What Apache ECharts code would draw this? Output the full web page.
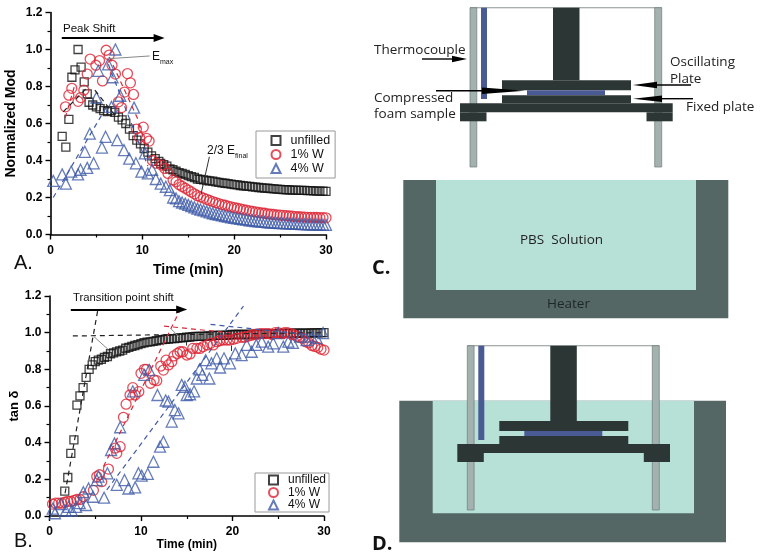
<!DOCTYPE html>
<html><head><meta charset="utf-8">
<style>html,body{margin:0;padding:0;background:#fff}#c{width:762px;height:558px}</style>
<script src="https://cdn.jsdelivr.net/npm/echarts@6/dist/echarts.min.js"></script>
</head><body><div id="c"></div><script>
const seriesNames = ['unfilled','1% W','4% W'];
const minutes = [.33,.67,1,1.33,1.67,2,2.33,2.67,3,3.33,3.67,4,4.33,4.67,5,5.33,5.67,6,6.33,6.67,7,7.33,7.67,8,8.33,8.67,9,9.33,9.67,10,10.33,10.67,11,11.33,11.67,12,12.33,12.67,13,13.33,13.67,14,14.33,14.67,15,15.33,15.67,16,16.33,16.67,17,17.33,17.67,18,18.33,18.67,19,19.33,19.67,20,20.33,20.67,21,21.33,21.67,22,22.33,22.67,23,23.33,23.67,24,24.33,24.67,25,25.33,25.67,26,26.33,26.67,27,27.33,27.67,28,28.33,28.67,29,29.33,29.67,30];

// Panel A: normalized modulus
const modUnfilledT = [1.27,1.67,2,2.33,2.67,3,3.33,3.67,4,4.2,4.6,5,5.4,5.8,6.2,6.6,7,7.4,7.8,8.2,8.6,9,9.4,9.8,10.2,10.6,11,11.4,11.8];
const modUnfilledV = [.53,.472,.622,.85,.89,1,.905,.825,.76,.715,.70,.69,.68,.67,.665,.67,.66,.635,.62,.60,.57,.535,.51,.49,.465,.445,.425,.41,.395];
const modUnfilledTail = [.385,.378,.37,.355,.35,.342,.335,.33,.325,.318,.313,.308,.30,.298,.295,.292,.29,.288,.285,.282,.279,.277,.275,.272,.27,.268,.265,.263,.262,.26,.257,.256,.254,.252,.251,.25,.248,.247,.245,.244,.243,.242,.241,.24,.24,.239,.238,.238,.237,.237,.236,.235,.234,.234,.233];
const modRedT = [1.63,2,2.32,3,3.3,3.63,4,4.32,4.94,5.34,5.66,6.06,6.39,6.7,7.07,7.4,7.73,8.06,8.38,8.7,9.04,9.36,9.7,10.1,10.45,10.74,11.1,11.5,12.1,12.45,12.8,13.35];
const modRedV = [.69,.753,.79,.72,.74,.78,.867,.948,.915,.94,.83,.996,.97,.915,.867,.717,.686,.77,.87,.82,.757,.57,.525,.58,.52,.505,.40,.385,.375,.357,.33,.295];
const modRedTail = [.285,.27,.26,.25,.24,.23,.22,.21,.203,.197,.19,.184,.178,.172,.167,.162,.158,.153,.149,.145,.142,.138,.135,.132,.128,.125,.122,.119,.117,.115,.112,.11,.108,.106,.105,.103,.102,.10,.099,.097,.096,.095,.094,.093,.093,.092,.092,.091,.091,.09];
const modBlueT = [.3,1.27,1.67,2.25,3,3.27,3.74,4,4.28,4.7,5,5.2,5.6,6,6.28,6.64,6.75,7.07,7.26,7.6,8,8.57,9.1,9.3,9.9,10.27,10.6,11.07,11.47,12,12.56,13,13.35];
const modBlueV = [.29,.325,.275,.34,.325,.35,.447,.36,.545,.385,.74,.885,.47,.528,.92,.69,.85,1,.51,.75,.456,.41,.686,.385,.34,.438,.33,.35,.30,.275,.258,.24,.20];
const modBlueTail = [.195,.18,.173,.167,.16,.153,.147,.14,.135,.13,.125,.12,.115,.11,.107,.103,.10,.097,.093,.09,.087,.085,.082,.08,.077,.075,.073,.071,.07,.068,.066,.065,.064,.063,.062,.061,.06,.06,.059,.058,.057,.056,.056,.055,.055,.054,.054,.053,.053,.052];

// Panel B: tan delta
const tanUnfilled = [.136,.21,.342,.415,.605,.655,.70,.756,.80,.824,.842,.85,.855,.865,.87,.885,.89,.895,.90,.905,.915,.92,.925,.93,.935,.94,.945,.948,.95,.953,.956,.96,.962,.964,.965,.967,.968,.97,.972,.973,.975,.976,.978,.98,.98,.98,.98,.982,.983,.985,.985,.985,.985,.987,.988,.99,.99,.99,.99,.99,.99,.99,.991,.992,.992,.993,.993,.994,.994,.995,.995,.995,.996,.996,.996,.997,.997,.997,.998,.998,.998,.999,.999,.999,1,1];
const tanRedT = [.33,.67,1,1.33,1.67,2,2.33,2.67,3,3.33,3.7,4.8,5.17,5.46,5.7,6.44,7.17,7.35,7.72,8.08,8.37,8.8,9.1,9.36,9.76,10,10.37,10.6,11.03,11.43,11.72,12.16,12.45,12.74,13,13.36,13.6,13.98,14.27,14.56,15,15.36,15.65,16.1,16.45,16.8,17.25,17.6,17.9,18.27,18.6,19,19.37,19.7,20.1,20.45,21,21.33,21.67,22,22.33,22.67,23,23.33,23.67,24,24.33,24.67,25,25.33,25.67,26,26.33,26.67,27,27.33,27.67,28,28.33,28.67,29,29.33,29.67,30];
const tanRedV = [.065,.07,.07,.07,.075,.08,.08,.085,.09,.09,.105,.14,.215,.225,.187,.256,.37,.342,.378,.538,.61,.66,.70,.66,.678,.778,.80,.80,.724,.742,.738,.818,.796,.85,.824,.842,.873,.887,.896,.896,.878,.884,.914,.914,.914,.924,.933,.942,.933,.951,.956,.96,.96,.96,.964,.969,.975,.975,.98,.985,.99,.99,.995,.995,.995,.995,.99,1,1,.995,1,1,.995,.99,.98,.975,.97,.95,.945,.93,.925,.92,.91,.905];
const tanBlueT = [.36,.6,1.24,1.78,2.07,2.44,2.9,3.3,3.7,4,4.27,4.75,5.17,5.35,5.97,6.33,6.73,7.1,7.35,7.72,8.2,8.63,9.1,9.36,9.72,10.08,10.34,10.74,10.9,11.36,11.8,12.08,12.45,12.7,13,13.36,13.7,14.1,14.45,14.8,15,15.36,15.8,16.1,16.4,16.7,17.07,17.47,17.7,18.27,18.64,19.07,19.73,20.3,21,21.55,22.1,22.6,23.2,23.9,24.45,25,25.55,26.1,26.6,27.4,28.1,28.65,29.2,29.9];
const tanBlueV = [.04,.015,.065,.03,.05,.03,.05,.07,.13,.06,.15,.105,.196,.215,.10,.233,.36,.396,.17,.484,.196,.15,.68,.156,.233,.22,.77,.23,.796,.296,.66,.378,.405,.63,.624,.515,.578,.56,.715,.705,.66,.664,.68,.75,.80,.77,.85,.75,.833,.86,.81,.86,.833,.887,.878,.933,.896,.933,.951,.924,.942,.998,.924,.951,.944,.978,.96,.978,.97,.998];

// Annotation lines: [x1, y1, x2, y2] in axis units
const modGuides = [
 ['#222',[1.38,.663,3.92,.79]],['#222',[4.83,.78,7,.645]],
 ['#d8283a',[1.6,.63,2.6,.80]],['#d8283a',[6.4,.96,9.55,.62]],['#d8283a',[9.6,.6,10.6,.45]],
 ['#3f5ba8',[.3,.2,6.1,.69]],['#3f5ba8',[6.3,.92,10.6,.37]]];
const tanGuides = [
 ['#222',[1.7,.124,5.28,1.124]],['#222',[2.55,.982,30,1.0]],
 ['#d8283a',[5.9,.27,14.27,1.124]],['#d8283a',[12.52,1.036,27.4,.96]],
 ['#3f5ba8',[6.26,.142,21.2,1.145]],['#3f5ba8',[17.6,1.045,30,.98]]];
const modLeaders = [['#888',[6.2,.95,10.8,.965]],['#333',[17.3,.42,16.4,.22]]];
const tanLeaders = [['#888',[4.87,.978,6.4,.909]],['#888',[13.3,1.02,14.2,.975]],['#333',[14.9,.95,14.9,.93]],['#333',[19.9,.93,19.9,.90]]];
const modShift = [1.23,1.062,11.83,1.062];
const tanShift = [2.33,1.127,14.45,1.127];

const zip = (t,v)=>v.map((y,i)=>[t[i],y]);
const colors = ['#111','#dc2433','#3f5ba8'];
const symbols = ['rect','circle','triangle'];
const sizes = [8,10,11];
const tail = i => minutes.slice(i);
const panelData = [
 [zip(modUnfilledT,modUnfilledV).concat(zip(tail(35),modUnfilledTail)),
  zip(modRedT,modRedV).concat(zip(tail(40),modRedTail)),
  zip(modBlueT,modBlueV).concat(zip(tail(40),modBlueTail))],
 [zip(tail(4),tanUnfilled), zip(tanRedT,tanRedV), zip(tanBlueT,tanBlueV)]
];

const guideLine = ([c,p],type,w)=>[
 {coord:[p[0],p[1]],symbol:'none',lineStyle:{color:c,type:type,width:w}},
 {coord:[p[2],p[3]],symbol:'none'}];
const shiftLine = p=>[
 {coord:[p[0],p[1]],symbol:'none',lineStyle:{color:'#000',type:'solid',width:1.8}},
 {coord:[p[2],p[3]],symbol:'triangle',symbolSize:[8,11]}];

const series = [];
panelData.forEach((panel,pi)=>{
 panel.forEach((d,i)=>series.push({
  type:'scatter',name:seriesNames[i],xAxisIndex:pi,yAxisIndex:pi,data:d,
  symbol:symbols[i],symbolSize:sizes[i],
  itemStyle:{color:'transparent',borderColor:colors[i],borderWidth:1.3},silent:true}));
 series.push({type:'scatter',name:'guides'+pi,xAxisIndex:pi,yAxisIndex:pi,data:[],
  markLine:{silent:true,animation:false,symbol:'none',label:{show:false},lineStyle:{type:'dashed'},
   data:(pi?tanGuides:modGuides).map(g=>guideLine(g,[5,4],1.2))
     .concat((pi?tanLeaders:modLeaders).map(g=>guideLine(g,'solid',1)))
     .concat([shiftLine(pi?tanShift:modShift)])}});
});

const axisFont = {color:'#000',fontFamily:'Liberation Sans',fontWeight:'bold',fontSize:12};
const xAx = (g,size,gap)=>({type:'value',gridIndex:g,min:0,max:30,interval:10,name:'Time (min)',nameLocation:'middle',nameGap:gap,
 nameTextStyle:{color:'#000',fontFamily:'Liberation Sans',fontWeight:'bold',fontSize:size},
 axisLine:{show:true,onZero:false,lineStyle:{color:'#000',width:1.6}},
 axisTick:{show:true,length:5,lineStyle:{color:'#000',width:1.4}},
 minorTick:{show:true,splitNumber:2,length:3,lineStyle:{color:'#000',width:1.2}},
 axisLabel:Object.assign({margin:10},axisFont),splitLine:{show:false},minorSplitLine:{show:false}});
const yAx = (g,name,size,gap)=>({type:'value',gridIndex:g,min:0,max:1.2,interval:.2,name:name,nameLocation:'middle',nameGap:gap,
 nameTextStyle:{color:'#000',fontFamily:'Liberation Sans',fontWeight:'bold',fontSize:size},
 axisLine:{show:true,onZero:false,lineStyle:{color:'#000',width:1.6}},
 axisTick:{show:true,length:5,lineStyle:{color:'#000',width:1.4}},
 minorTick:{show:true,splitNumber:2,length:3,lineStyle:{color:'#000',width:1.2}},
 axisLabel:Object.assign({margin:8,formatter:v=>v.toFixed(1)},axisFont),splitLine:{show:false},minorSplitLine:{show:false}});
const legend = (left,top,right,vpad,gap,size)=>({data:seriesNames,orient:'vertical',left,top,selectedMode:false,
 borderColor:'#999',borderWidth:1,padding:[vpad,right,vpad,left<256?13:14.5],itemGap:gap,itemWidth:9,itemHeight:9,
 textStyle:{color:'#111',fontFamily:'Liberation Sans',fontSize:size,padding:[0,0,0,5]}});

// Schematic shapes (pixel-placed illustration, not data)
const dark='#2c3635', wall='#546765', liquid='#b7e0d6', post='#a3b2af', blue='#4a5a94';
const g=[];
const rect=(x1,y1,x2,y2,fill,stroke)=>g.push({type:'rect',shape:{x:x1,y:y1,width:x2-x1,height:y2-y1},style:{fill,stroke:stroke||null,lineWidth:stroke?.7:0}});
const text=(x,y,t,o={})=>g.push({type:'text',x,y,style:Object.assign({text:t,fill:'#222',fontFamily:'Open Sans',fontSize:13.5,textVerticalAlign:'middle'},o)});
const head=(x1,x2,xt,y)=>{ // pointer from x1 to tip xt, head starting at x2
 g.push({type:'line',shape:{x1,y1:y,x2,y2:y},style:{stroke:'#000',lineWidth:1.4}});
 g.push({type:'polygon',shape:{points:[[x2,y-3.2],[xt,y],[x2,y+3.2]]},style:{fill:'#000'}});
};
const apparatus=(o)=>{
 rect(o.l,o.top-.5,o.r,o.top+.5,'#8a9492');
 rect(o.l,o.top,o.l+6.8,o.postB,post,'#6f7d7a');
 rect(o.r-7,o.top,o.r,o.postB,post,'#6f7d7a');
 rect(o.l+11,o.top,o.l+17,o.thermoB,blue);
 rect(o.l+83,o.top,o.l+109.5,o.top+o.shaftH,dark);
 const py=o.top+o.shaftH;
 rect(o.l+32,py,o.l+161,py+10,dark);
 rect(o.l+57,py+10,o.l+135,py+15,blue);
 rect(o.l+32,py+15,o.l+161,py+23,dark);
 rect(o.l-10,py+23,o.l+202.7,py+32,dark);
 rect(o.l-10,py+32,o.l+16.5,py+41,dark);
 rect(o.l+176.5,py+32,o.l+202.7,py+41,dark);
};
// Panel C
apparatus({l:470,r:661.7,top:7.7,postB:167,thermoB:99,shaftH:72.6});
head(422,452,467,59); head(436,482,525,90.7); head(691,657,633,85); head(693,662,633,98.7);
text(374,50,'Thermocouple'); text(670,62,'Oscillating'); text(670,79,'Plate');
text(374,98,'Compressed'); text(374,114,'foam sample'); text(686,107,'Fixed plate');
rect(403.3,180,728.3,318.3,wall); rect(436,180,696,290,liquid);
text(520,240,'PBS  Solution'); text(547,304.5,'Heater',{fill:'#1d2726'});
// Panel D
rect(399.3,400.7,726,542.3,wall); rect(432.7,400.7,694,513.3,liquid);
apparatus({l:467.3,r:659.3,top:345.7,postB:510,thermoB:440,shaftH:75.3});
// Panel letters and plot notes
const plain={fontFamily:'Liberation Sans',fill:'#111'};
text(14,263,'A.',Object.assign({fontSize:20},plain));
text(14,541,'B.',Object.assign({fontSize:20},plain));
text(372,268,'C.',{fontFamily:'Open Sans',fontWeight:'bold',fontSize:20,fill:'#111'});
text(372,544,'D.',{fontFamily:'Open Sans',fontWeight:'bold',fontSize:20,fill:'#111'});
text(63,29,'Peak Shift',Object.assign({fontSize:11.5},plain));
text(73,297.5,'Transition point shift',Object.assign({fontSize:11.3},plain));
text(152,57,'E',Object.assign({fontSize:12},plain));
text(160,62,'max',Object.assign({fontSize:7},plain));
text(207,151,'2/3 E',Object.assign({fontSize:12},plain));
text(235,156,'final',Object.assign({fontSize:7},plain));

const chart=echarts.init(document.getElementById('c'),null,{renderer:'canvas'});
chart.setOption({
 animation:false,backgroundColor:'#fff',
 grid:[{left:50.5,top:12.5,width:275.5,height:222,containLabel:false},{left:49.5,top:296,width:274.5,height:220,containLabel:false}],
 xAxis:[xAx(0,14,29),xAx(1,12,22)],
 yAxis:[yAx(0,'Normalized Mod',14,32),yAx(1,'tan δ',13,28)],
 legend:[legend(256,131,5,3,1,12.5),legend(255,473,3,1,.5,12)],
 tooltip:{show:false},
 series,
 graphic:{elements:g}
});
</script></body></html>
